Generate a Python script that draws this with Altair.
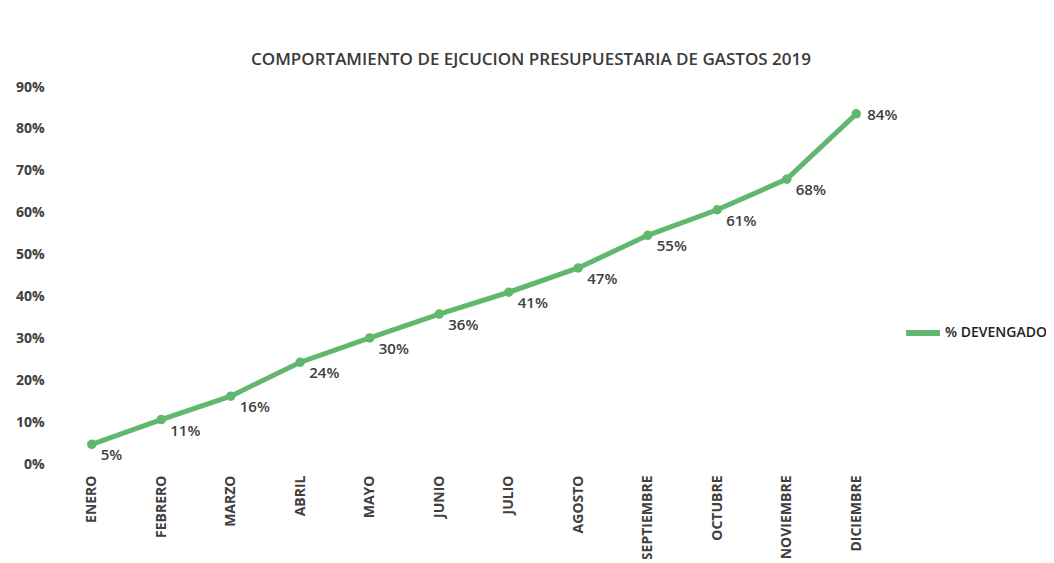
import altair as alt
import pandas as pd

meses = ["ENERO", "FEBRERO", "MARZO", "ABRIL", "MAYO", "JUNIO", "JULIO",
         "AGOSTO", "SEPTIEMBRE", "OCTUBRE", "NOVIEMBRE", "DICIEMBRE"]
devengado = [0.047, 0.106, 0.162, 0.243, 0.301, 0.358, 0.410,
             0.468, 0.546, 0.607, 0.680, 0.836]
serie = "% DEVENGADO"

df = pd.DataFrame({"mes": meses, "valor": devengado, "serie": [serie] * len(meses)})

FONT = "Open Sans"
GREEN = "#62b76f"
TXT = "#404040"

x = alt.X("mes:N", sort=meses, title=None,
          scale=alt.Scale(type="point", padding=0.5),
          axis=alt.Axis(labelAngle=-90, labelAlign="right", labelBaseline="middle",
                        labelPadding=11, ticks=False, domain=False, grid=False,
                        labelFont=FONT, labelFontSize=14, labelFontWeight="bold",
                        labelColor=TXT))
y = alt.Y("valor:Q", title=None,
          scale=alt.Scale(domain=[0, 0.9]),
          axis=alt.Axis(format=".0%", values=[i / 10 for i in range(10)],
                        ticks=False, domain=False, grid=False, labelPadding=13,
                        labelFont=FONT, labelFontSize=14, labelFontWeight="bold",
                        labelColor=TXT))

color = alt.Color("serie:N", title=None,
                  scale=alt.Scale(range=[GREEN]),
                  legend=alt.Legend(orient="none", legendX=846, legendY=226,
                                    symbolType="stroke", symbolSize=1150,
                                    symbolStrokeWidth=6, labelFont=FONT,
                                    labelFontSize=14, labelFontWeight=600,
                                    labelColor="#222222", labelOffset=2))

base = alt.Chart(df)

line = base.mark_line(strokeWidth=5, point=alt.OverlayMarkDef(size=90, filled=True, color=GREEN)).encode(
    x=x, y=y, color=color)

labels = base.transform_filter(alt.datum.mes != "DICIEMBRE").mark_text(
    align="left", baseline="middle", dx=9, dy=11, font=FONT, fontSize=15,
    fontWeight=600, color=TXT).encode(
    x=x, y=y, text=alt.Text("valor:Q", format=".0%"))

last = base.transform_filter(alt.datum.mes == "DICIEMBRE").mark_text(
    align="left", baseline="middle", dx=11, dy=1, font=FONT, fontSize=15,
    fontWeight=600, color=TXT).encode(
    x=x, y=y, text=alt.Text("valor:Q", format=".0%"))

chart = alt.layer(line, labels, last).properties(
    width=834, height=377,
    title=alt.TitleParams("COMPORTAMIENTO DE EJCUCION PRESUPUESTARIA DE GASTOS 2019",
                          font=FONT, fontSize=17, fontWeight=600, color="#3a3a3a",
                          anchor="middle", dx=57, offset=11),
    autosize=alt.AutoSizeParams(type="none"),
    padding={"left": 49, "top": 79, "right": 155, "bottom": 95},
).configure_view(stroke=None)

chart.save("out.html", embed_options={"renderer": "svg", "actions": False})
